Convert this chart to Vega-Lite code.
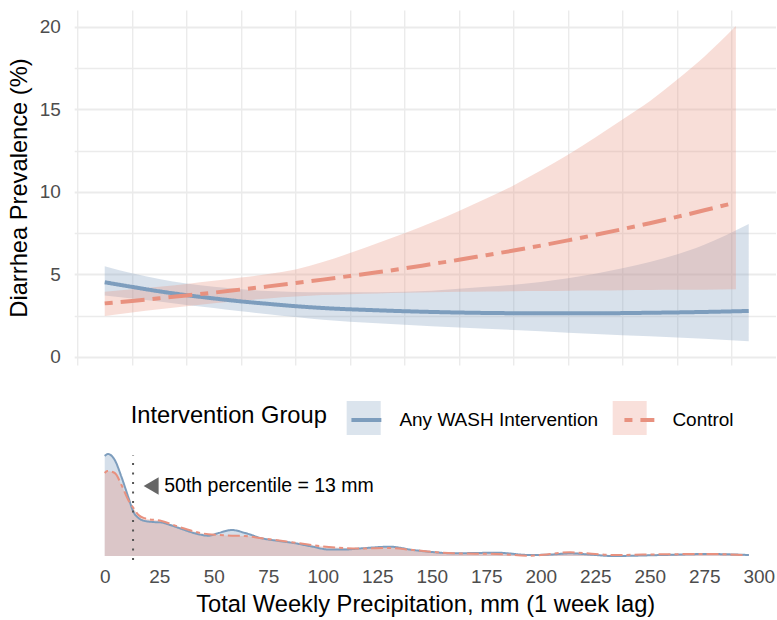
{
  "$schema": "https://vega.github.io/schema/vega-lite/v6.json",
  "padding": {"left": 7.2, "top": 10, "right": 0, "bottom": 0},
  "bounds": "flush",
  "spacing": 85,
  "config": {
    "font": "Liberation Sans",
    "view": {"stroke": null},
    "axis": {"labelFont": "Liberation Sans", "titleFont": "Liberation Sans"},
    "legend": {"labelFont": "Liberation Sans", "titleFont": "Liberation Sans"},
    "text": {"font": "Liberation Sans"}
  },
  "datasets": {
    "fit": [
      {"grp": "Any WASH Intervention", "x": 0, "est": 4.53, "lo": 3.73, "hi": 5.50},
      {"grp": "Any WASH Intervention", "x": 12.5, "est": 4.25, "lo": 3.55, "hi": 5.07},
      {"grp": "Any WASH Intervention", "x": 25, "est": 3.98, "lo": 3.36, "hi": 4.72},
      {"grp": "Any WASH Intervention", "x": 37.5, "est": 3.75, "lo": 3.15, "hi": 4.45},
      {"grp": "Any WASH Intervention", "x": 50, "est": 3.55, "lo": 2.97, "hi": 4.25},
      {"grp": "Any WASH Intervention", "x": 62.5, "est": 3.37, "lo": 2.77, "hi": 4.10},
      {"grp": "Any WASH Intervention", "x": 75, "est": 3.22, "lo": 2.59, "hi": 4.00},
      {"grp": "Any WASH Intervention", "x": 87.5, "est": 3.08, "lo": 2.42, "hi": 3.94},
      {"grp": "Any WASH Intervention", "x": 100, "est": 2.97, "lo": 2.25, "hi": 3.92},
      {"grp": "Any WASH Intervention", "x": 125, "est": 2.83, "lo": 2.04, "hi": 3.93},
      {"grp": "Any WASH Intervention", "x": 150, "est": 2.73, "lo": 1.86, "hi": 4.02},
      {"grp": "Any WASH Intervention", "x": 175, "est": 2.67, "lo": 1.71, "hi": 4.25},
      {"grp": "Any WASH Intervention", "x": 200, "est": 2.65, "lo": 1.56, "hi": 4.55},
      {"grp": "Any WASH Intervention", "x": 225, "est": 2.65, "lo": 1.39, "hi": 5.05},
      {"grp": "Any WASH Intervention", "x": 250, "est": 2.68, "lo": 1.25, "hi": 5.75},
      {"grp": "Any WASH Intervention", "x": 275, "est": 2.73, "lo": 1.10, "hi": 6.80},
      {"grp": "Any WASH Intervention", "x": 295.4, "est": 2.79, "lo": 0.95, "hi": 8.06},
      {"grp": "Control", "x": 0, "est": 3.25, "lo": 2.48, "hi": 3.96},
      {"grp": "Control", "x": 12.5, "est": 3.40, "lo": 2.70, "hi": 4.10},
      {"grp": "Control", "x": 25, "est": 3.56, "lo": 2.90, "hi": 4.25},
      {"grp": "Control", "x": 37.5, "est": 3.73, "lo": 3.08, "hi": 4.43},
      {"grp": "Control", "x": 50, "est": 3.90, "lo": 3.25, "hi": 4.62},
      {"grp": "Control", "x": 62.5, "est": 4.09, "lo": 3.41, "hi": 4.82},
      {"grp": "Control", "x": 75, "est": 4.28, "lo": 3.55, "hi": 5.03},
      {"grp": "Control", "x": 87.5, "est": 4.48, "lo": 3.66, "hi": 5.30},
      {"grp": "Control", "x": 100, "est": 4.69, "lo": 3.75, "hi": 5.75},
      {"grp": "Control", "x": 112.5, "est": 4.91, "lo": 3.81, "hi": 6.30},
      {"grp": "Control", "x": 125, "est": 5.13, "lo": 3.85, "hi": 6.90},
      {"grp": "Control", "x": 137.5, "est": 5.37, "lo": 3.89, "hi": 7.50},
      {"grp": "Control", "x": 150, "est": 5.63, "lo": 3.92, "hi": 8.15},
      {"grp": "Control", "x": 162.5, "est": 5.89, "lo": 3.95, "hi": 8.85},
      {"grp": "Control", "x": 175, "est": 6.17, "lo": 3.97, "hi": 9.60},
      {"grp": "Control", "x": 187.5, "est": 6.45, "lo": 3.99, "hi": 10.40},
      {"grp": "Control", "x": 200, "est": 6.75, "lo": 4.00, "hi": 11.30},
      {"grp": "Control", "x": 212.5, "est": 7.07, "lo": 4.02, "hi": 12.25},
      {"grp": "Control", "x": 225, "est": 7.40, "lo": 4.03, "hi": 13.30},
      {"grp": "Control", "x": 237.5, "est": 7.75, "lo": 4.05, "hi": 14.40},
      {"grp": "Control", "x": 250, "est": 8.11, "lo": 4.06, "hi": 15.50},
      {"grp": "Control", "x": 262.5, "est": 8.49, "lo": 4.07, "hi": 16.80},
      {"grp": "Control", "x": 275, "est": 8.89, "lo": 4.08, "hi": 18.20},
      {"grp": "Control", "x": 289.5, "est": 9.37, "lo": 4.10, "hi": 20.06}
    ],
    "dens": [
      {"grp": "Any WASH Intervention", "x": 0, "d": 100},
      {"grp": "Any WASH Intervention", "x": 1.5, "d": 102},
      {"grp": "Any WASH Intervention", "x": 4.6, "d": 96},
      {"grp": "Any WASH Intervention", "x": 7.7, "d": 79},
      {"grp": "Any WASH Intervention", "x": 10.8, "d": 59},
      {"grp": "Any WASH Intervention", "x": 13.2, "d": 44},
      {"grp": "Any WASH Intervention", "x": 15.5, "d": 38},
      {"grp": "Any WASH Intervention", "x": 18.4, "d": 35},
      {"grp": "Any WASH Intervention", "x": 22, "d": 34},
      {"grp": "Any WASH Intervention", "x": 26.1, "d": 33.5},
      {"grp": "Any WASH Intervention", "x": 30, "d": 31},
      {"grp": "Any WASH Intervention", "x": 33.7, "d": 28.3},
      {"grp": "Any WASH Intervention", "x": 41.4, "d": 22.7},
      {"grp": "Any WASH Intervention", "x": 47.5, "d": 20.3},
      {"grp": "Any WASH Intervention", "x": 52.2, "d": 23},
      {"grp": "Any WASH Intervention", "x": 58.3, "d": 26},
      {"grp": "Any WASH Intervention", "x": 64.4, "d": 23},
      {"grp": "Any WASH Intervention", "x": 72.1, "d": 17.7},
      {"grp": "Any WASH Intervention", "x": 80, "d": 15},
      {"grp": "Any WASH Intervention", "x": 87.5, "d": 12.7},
      {"grp": "Any WASH Intervention", "x": 95, "d": 9.5},
      {"grp": "Any WASH Intervention", "x": 102.8, "d": 6.5},
      {"grp": "Any WASH Intervention", "x": 110, "d": 6.5},
      {"grp": "Any WASH Intervention", "x": 118, "d": 7.7},
      {"grp": "Any WASH Intervention", "x": 130.7, "d": 9.3},
      {"grp": "Any WASH Intervention", "x": 141.4, "d": 6},
      {"grp": "Any WASH Intervention", "x": 150, "d": 4},
      {"grp": "Any WASH Intervention", "x": 159.8, "d": 2.7},
      {"grp": "Any WASH Intervention", "x": 170, "d": 3},
      {"grp": "Any WASH Intervention", "x": 179.8, "d": 3.3},
      {"grp": "Any WASH Intervention", "x": 195, "d": 1},
      {"grp": "Any WASH Intervention", "x": 205, "d": 1.5},
      {"grp": "Any WASH Intervention", "x": 213.5, "d": 2.7},
      {"grp": "Any WASH Intervention", "x": 222, "d": 1.5},
      {"grp": "Any WASH Intervention", "x": 233, "d": 0},
      {"grp": "Any WASH Intervention", "x": 256, "d": 1},
      {"grp": "Any WASH Intervention", "x": 276.5, "d": 2},
      {"grp": "Any WASH Intervention", "x": 295.5, "d": 1},
      {"grp": "Control", "x": 0, "d": 83},
      {"grp": "Control", "x": 1.2, "d": 85},
      {"grp": "Control", "x": 4.6, "d": 83},
      {"grp": "Control", "x": 7.7, "d": 71},
      {"grp": "Control", "x": 10.8, "d": 56},
      {"grp": "Control", "x": 13.2, "d": 48},
      {"grp": "Control", "x": 15.5, "d": 41},
      {"grp": "Control", "x": 18.4, "d": 37.7},
      {"grp": "Control", "x": 26.1, "d": 35},
      {"grp": "Control", "x": 33.7, "d": 29.3},
      {"grp": "Control", "x": 41.4, "d": 24.3},
      {"grp": "Control", "x": 47.5, "d": 21.7},
      {"grp": "Control", "x": 52.2, "d": 21},
      {"grp": "Control", "x": 58.3, "d": 20.3},
      {"grp": "Control", "x": 64.4, "d": 20},
      {"grp": "Control", "x": 72.1, "d": 17.7},
      {"grp": "Control", "x": 87.5, "d": 13.3},
      {"grp": "Control", "x": 102.8, "d": 9},
      {"grp": "Control", "x": 118, "d": 7.5},
      {"grp": "Control", "x": 130.7, "d": 8},
      {"grp": "Control", "x": 141.4, "d": 6},
      {"grp": "Control", "x": 159.8, "d": 2.7},
      {"grp": "Control", "x": 179.8, "d": 2},
      {"grp": "Control", "x": 195, "d": 0.3},
      {"grp": "Control", "x": 213.5, "d": 3.7},
      {"grp": "Control", "x": 225, "d": 2},
      {"grp": "Control", "x": 233, "d": 1},
      {"grp": "Control", "x": 256, "d": 1.7},
      {"grp": "Control", "x": 276.5, "d": 2},
      {"grp": "Control", "x": 293, "d": 1}
    ]
  },
  "vconcat": [
    {
      "width": 702,
      "height": 355,
      "data": {"name": "fit"},
      "layer": [
        {
          "mark": {"type": "area", "interpolate": "monotone", "fillOpacity": 0.3},
          "encoding": {
            "x": {
              "field": "x", "type": "quantitative",
              "scale": {"domain": [-14, 308], "nice": false, "zero": false},
              "axis": {
                "values": [-12.5, 0, 12.5, 25, 37.5, 50, 62.5, 75, 87.5, 100, 112.5, 125, 137.5, 150, 162.5, 175, 187.5, 200, 212.5, 225, 237.5, 250, 262.5, 275, 287.5, 300],
                "labels": false, "ticks": false, "domain": false, "title": null,
                "grid": true, "gridColor": "#ebebeb",
                "gridWidth": {"condition": {"test": "datum.value % 25 === 0", "value": 2}, "value": 1.4}
              }
            },
            "y": {
              "field": "lo", "type": "quantitative",
              "scale": {"domain": [-0.485, 21.03], "nice": false, "zero": false},
              "axis": {
                "values": [0, 2.5, 5, 7.5, 10, 12.5, 15, 17.5, 20],
                "labelExpr": "datum.value % 5 === 0 ? datum.label : ''",
                "ticks": false, "domain": false,
                "grid": true, "gridColor": "#ebebeb",
                "gridWidth": {"condition": {"test": "datum.value % 5 === 0", "value": 2}, "value": 1.4},
                "labelFontSize": 19, "labelColor": "#4d4d4d", "labelPadding": 13.8,
                "minExtent": 36, "maxExtent": 36,
                "title": "Diarrhea Prevalence (%)", "titleFontSize": 23.7, "titleFontWeight": "normal",
                "titleColor": "#000000", "titlePadding": 6.5
              }
            },
            "y2": {"field": "hi"},
            "fill": {
              "field": "grp", "type": "nominal",
              "scale": {"domain": ["Any WASH Intervention", "Control"], "range": ["#7d9dbd", "#e8917f"]},
              "legend": {
                "orient": "none", "legendX": 272.5, "legendY": 391, "direction": "horizontal",
                "title": null,
                "labelExpr": "''", "labelOffset": 0, "columnPadding": 232,
                "symbolType": "square", "symbolSize": 1156, "symbolStrokeWidth": 0, "symbolOpacity": 0.28
              }
            }
          }
        },
        {
          "mark": {"type": "line", "interpolate": "monotone", "strokeWidth": 4},
          "encoding": {
            "x": {"field": "x", "type": "quantitative"},
            "y": {"field": "est", "type": "quantitative"},
            "stroke": {
              "field": "grp", "type": "nominal",
              "scale": {"range": ["#7d9dbd", "#e8917f"]},
              "legend": {
                "orient": "none", "legendX": 56.5, "legendY": 391, "direction": "horizontal",
                "title": "Intervention Group", "titleOrient": "left", "titleAnchor": "middle", "titleBaseline": "middle",
                "titleFontSize": 23.7, "titleFontWeight": "normal", "titlePadding": 19.7, "titleColor": "#000000", "titleLimit": 500,
                "labelFontSize": 19, "labelColor": "#000000", "labelOffset": 14, "columnPadding": 18, "labelLimit": 500,
                "symbolType": "M-0.88,0H0.88", "symbolSize": 1156, "symbolStrokeWidth": 4
              }
            },
            "strokeDash": {
              "field": "grp", "type": "nominal",
              "scale": {"range": [[1, 0], [8, 8, 24, 8]]}
            }
          }
        }
      ]
    },
    {
      "width": 702,
      "height": 112,
      "layer": [
        {
          "data": {"name": "dens"},
          "mark": {"type": "area", "interpolate": "monotone", "fillOpacity": 0.32},
          "encoding": {
            "x": {
              "field": "x", "type": "quantitative",
              "scale": {"domain": [-14, 308], "nice": false, "zero": false},
              "axis": {
                "values": [0, 25, 50, 75, 100, 125, 150, 175, 200, 225, 250, 275, 300],
                "grid": false, "ticks": false, "domain": false,
                "labelFontSize": 19, "labelColor": "#4d4d4d", "labelPadding": 6,
                "title": "Total Weekly Precipitation, mm (1 week lag)", "titleFontSize": 23.7,
                "titleFontWeight": "normal", "titleColor": "#000000", "titlePadding": 6
              }
            },
            "y": {"field": "d", "type": "quantitative", "scale": {"domain": [-6, 106], "nice": false, "zero": false}, "axis": null},
            "y2": {"datum": 0},
            "fill": {
              "field": "grp", "type": "nominal",
              "scale": {"domain": ["Any WASH Intervention", "Control"], "range": ["#7d9dbd", "#e8917f"]},
              "legend": null
            }
          }
        },
        {
          "data": {"name": "dens"},
          "mark": {"type": "line", "interpolate": "monotone", "strokeWidth": 2},
          "encoding": {
            "x": {"field": "x", "type": "quantitative"},
            "y": {"field": "d", "type": "quantitative"},
            "stroke": {"field": "grp", "type": "nominal", "scale": {"range": ["#7d9dbd", "#e8917f"]}, "legend": null},
            "strokeDash": {"field": "grp", "type": "nominal", "scale": {"range": [[1, 0], [4, 4, 12, 4]]}, "legend": null}
          }
        },
        {
          "data": {"values": [{"x": 13, "y": -4, "y2": 101}]},
          "mark": {"type": "rule", "strokeDash": [2, 7.5], "strokeWidth": 2, "color": "#555555"},
          "encoding": {
            "x": {"field": "x", "type": "quantitative"},
            "y": {"field": "y", "type": "quantitative"},
            "y2": {"field": "y2"}
          }
        },
        {
          "data": {"values": [{"x": 21.3, "y": 70}]},
          "mark": {"type": "point", "shape": "triangle-left", "filled": true, "size": 300, "color": "#666666", "opacity": 1},
          "encoding": {
            "x": {"field": "x", "type": "quantitative"},
            "y": {"field": "y", "type": "quantitative"}
          }
        },
        {
          "data": {"values": [{"x": 27.3, "y": 70, "label": "50th percentile = 13 mm"}]},
          "mark": {"type": "text", "align": "left", "baseline": "middle", "fontSize": 19.5, "color": "#000000", "font": "Liberation Sans"},
          "encoding": {
            "x": {"field": "x", "type": "quantitative"},
            "y": {"field": "y", "type": "quantitative"},
            "text": {"field": "label"}
          }
        }
      ]
    }
  ],
  "resolve": {
    "scale": {"x": "independent", "fill": "independent", "stroke": "independent", "strokeDash": "independent"},
    "legend": {"fill": "independent", "stroke": "independent", "strokeDash": "independent"}
  }
}
